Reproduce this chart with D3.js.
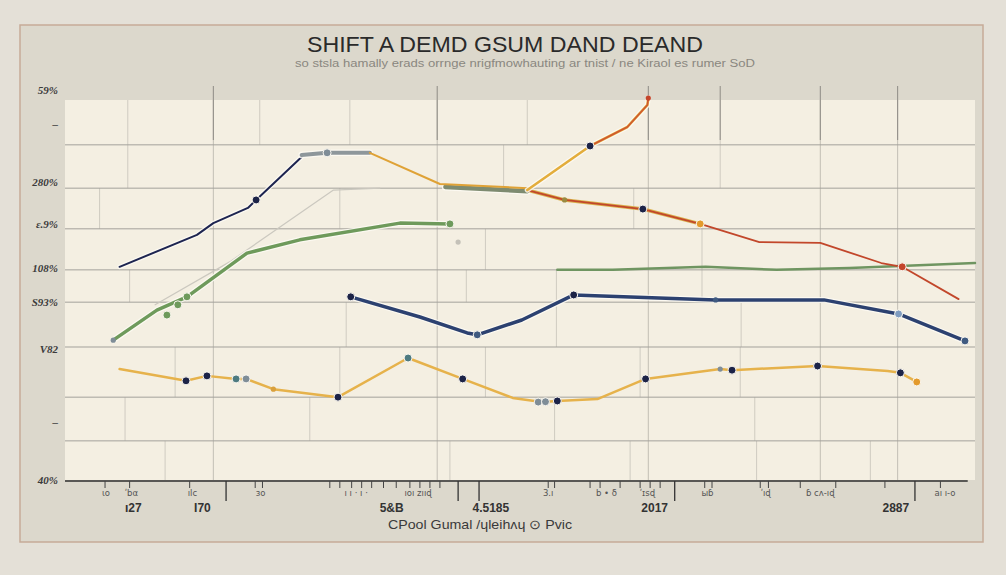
<!DOCTYPE html>
<html>
<head>
<meta charset="utf-8">
<script src="https://cdn.jsdelivr.net/npm/d3@7/dist/d3.min.js"></script>
<style>
  body { margin: 0; background: #e4e0d7; }
  svg { display: block; }
</style>
</head>
<body>
<script>
//////////////////////////////////////////////////////////////////////////////
// Data (x and y both run 0..100 across the plot)
//////////////////////////////////////////////////////////////////////////////
let titleText = 'SHIFT A DEMD GSUM DAND DEAND'
let subtitleText = 'so stsla hamally erads orrnge nrigfmowhauting ar tnist / ne Kiraol  es rumer SoD'
let xTitleText = 'CPool Gumal /ɥleihʌɥ ⊙ Pvic'

let yTickValues = [102.6, 93.7, 78.4, 67.4, 55.8, 46.8, 34.5, 15.3, 0]
let yTickLabels = ['59%', '–', '280%', 'ε.9%', '108%', 'S93%', 'V82', '–', '40%']

let gridRows = [88.2, 76.8, 66.1, 55.3, 46.8, 35.0, 21.8, 10.3]
let gridMajorCols = [16.3, 40.9, 64.1, 83.0, 91.5]
let gridTopTicks = [16.3, 40.9, 64.1, 72.0, 83.0, 91.5]
// brick joints, one list per band from top to bottom
let brickJoints = [
  [6.9, 21.4, 31.3, 50.8, 72.0],
  [6.9, 48.2, 72.0],
  [3.8, 30.2, 62.5],
  [46.2, 70.0],
  [7.1, 44.1, 54.0, 70.0],
  [30.9, 54.0, 74.3],
  [12.1, 30.2, 46.2, 63.2, 74.2],
  [6.6, 26.9, 53.8, 75.8],
  [11.0, 42.3, 62.1, 76.0, 88.5]
]

let xMajorTicks = [17.7, 43.2, 45.5, 67.0, 93.4]
let xMinorTicks = [4.4, 7.1, 13.7, 20.9, 21.7, 29.1, 30.2, 31.5, 32.6, 33.7, 35.0,
  36.4, 37.9, 39.0, 40.1, 41.2, 53.1, 53.8, 57.7, 58.8, 61.0, 63.2, 64.3, 65.4,
  70.3, 71.1, 76.4, 77.3, 80.8, 84.7, 90.1, 96.2]
let xSmallLabels = [
  [4.5, 'ιo'], [7.3, 'ʹbα'], [14.0, 'ılc'], [21.5, 'ɜo'], [32.0, 'ı ı · ı ·'],
  [38.8, 'ıoı zııɖ'], [53.1, '3.ı'], [59.5, 'b • ẟ'], [64.0, 'ʹɪsɖ'],
  [70.6, 'ыɓ'], [77.0, 'ʹıɖ'], [83.0, 'ɓ cʌ-ıɖ'], [96.7, 'aı ı-o']
]
let xLabels = [
  [7.5, 'ı27'], [15.1, 'Ι70'], [35.9, '5&B'], [46.8, '4.5185'], [64.8, '2017'], [91.3, '2887']
]

// series
let navyRise = [[6.0, 56.1], [14.5, 64.5], [16.3, 67.6], [20.1, 71.6], [21.0, 73.7], [26.0, 85.0]]
let grayCap = [[26.0, 85.5], [28.8, 86.1], [33.5, 86.1]]
let orangePeak = [[33.5, 86.1], [41.2, 77.9], [50.8, 76.8]]
let oliveBand = [[41.8, 77.1], [50.8, 76.0]]
let amberRise = [[50.8, 76.3], [57.7, 87.9], [61.8, 92.9], [64.0, 98.7], [64.1, 100.5]]
let redTip = [[57.7, 87.9], [61.8, 92.9], [64.0, 98.7], [64.1, 100.5]]
let amberFall = [[50.8, 76.3], [54.9, 73.7], [63.5, 71.3], [69.8, 67.4]]
let redDecline = [[50.8, 76.3], [54.9, 73.7], [63.5, 71.3], [69.8, 67.4], [76.3, 62.6],
  [83.0, 62.4], [89.7, 57.1], [92.0, 56.1], [98.2, 47.6]]
let greenRise = [[5.3, 36.8], [10.1, 44.7], [13.4, 48.2], [20.0, 59.7], [25.8, 63.2],
  [36.8, 67.6], [42.3, 67.4]]
let greenFlat = [[54.1, 55.3], [60.2, 55.3], [70.4, 56.1], [78.2, 55.3], [86.2, 55.8],
  [89.7, 56.1], [100, 57.1]]
let navyDip = [[31.4, 48.2], [39.0, 42.9], [44.2, 38.7], [45.3, 38.2], [50.2, 42.1],
  [55.9, 48.7], [71.5, 47.4], [83.4, 47.4], [91.6, 43.7], [98.9, 36.6]]
let amberBase = [[6.0, 29.2], [13.3, 26.1], [15.6, 27.4], [18.8, 26.6], [19.9, 26.6],
  [22.9, 23.9], [30.0, 21.8], [37.7, 32.1], [43.7, 26.6], [49.2, 21.6], [52.4, 20.5],
  [54.1, 20.8], [58.5, 21.3], [63.8, 26.6], [72.0, 29.2], [73.3, 28.9], [82.7, 30.0],
  [90.4, 28.7], [91.8, 28.2], [93.6, 25.8]]
let ghostTrail = [[9.9, 46.1], [18.1, 57.4], [29.5, 76.3], [34.6, 76.8]]

// markers: x, y, colour group
let markers = [
  [21.0, 73.7, 'navy'], [28.8, 86.1, 'slate'], [57.7, 87.9, 'navy'],
  [63.5, 71.3, 'navy'], [69.8, 67.4, 'orange'], [92.0, 56.1, 'red'],
  [11.2, 43.4, 'green'], [12.4, 46.1, 'green'], [13.4, 48.2, 'green'], [42.3, 67.4, 'green'],
  [31.4, 48.2, 'navy'], [45.3, 38.2, 'steel'], [55.9, 48.7, 'navy'],
  [91.6, 43.7, 'sky'], [98.9, 36.6, 'steel'],
  [13.3, 26.1, 'navy'], [15.6, 27.4, 'navy'], [18.8, 26.6, 'teal'], [19.9, 26.6, 'slate'],
  [30.0, 21.8, 'navy'], [37.7, 32.1, 'teal'], [43.7, 26.6, 'navy'],
  [52.0, 20.5, 'slate'], [52.8, 20.6, 'slate'], [54.1, 20.8, 'navy'],
  [63.8, 26.6, 'navy'], [73.3, 28.9, 'navy'], [82.7, 30.0, 'navy'],
  [91.8, 28.2, 'navy'], [93.6, 25.8, 'orange']
]
let minorMarkers = [
  [64.1, 100.5, 'red'], [54.9, 73.7, 'olive'], [5.3, 36.8, 'slate'], [43.2, 62.6, 'ghost'],
  [71.5, 47.4, 'steel'], [22.9, 23.9, 'amber'], [72.0, 29.2, 'slate']
]

//////////////////////////////////////////////////////////////////////////////
// Layout
//////////////////////////////////////////////////////////////////////////////
let width = 1006
let height = 575
let plot = { left: 65, right: 975, top: 100, bottom: 480 }

let svg = d3.select('body').append('svg').attr('width', width).attr('height', height)

let x = d3.scaleLinear().domain([0, 100]).range([plot.left, plot.right])
let y = d3.scaleLinear().domain([0, 100]).range([plot.bottom, plot.top])

let color = d3
  .scaleOrdinal()
  .domain(['navy', 'slate', 'orange', 'red', 'green', 'steel', 'sky', 'teal', 'olive', 'ghost', 'amber'])
  .range(['#1c2347', '#7f8d97', '#e39a2c', '#c4452b', '#6e9a5c', '#3f5a80', '#7f9cc0', '#4d7a80', '#9a8a40', '#c4c1b8', '#d9a03c'])

// card
svg
  .append('rect')
  .attr('x', 20)
  .attr('y', 25)
  .attr('width', 963)
  .attr('height', 517)
  .attr('fill', '#dcd8cc')
  .attr('stroke', '#c6ab98')
  .attr('stroke-width', 1.5)

// plot background
svg
  .append('rect')
  .attr('x', plot.left)
  .attr('y', plot.top)
  .attr('width', plot.right - plot.left)
  .attr('height', plot.bottom - plot.top)
  .attr('fill', '#f4efe2')

// title + subtitle
svg
  .append('text')
  .attr('x', 505)
  .attr('y', 52)
  .attr('text-anchor', 'middle')
  .attr('font-family', 'Liberation Sans, Arial, sans-serif')
  .attr('font-size', 22)
  .attr('fill', '#2a2a2a')
  .attr('textLength', 396)
  .attr('lengthAdjust', 'spacingAndGlyphs')
  .text(titleText)
svg
  .append('text')
  .attr('x', 525)
  .attr('y', 67)
  .attr('text-anchor', 'middle')
  .attr('font-family', 'Liberation Sans, Arial, sans-serif')
  .attr('font-size', 10)
  .attr('fill', '#8a8780')
  .attr('textLength', 460)
  .attr('lengthAdjust', 'spacingAndGlyphs')
  .text(subtitleText)

//////////////////////////////////////////////////////////////////////////////
// Grid
//////////////////////////////////////////////////////////////////////////////
let bandEdges = [100].concat(gridRows).concat([0])
let grid = svg.append('g')

brickJoints.forEach((joints, i) => {
  grid
    .selectAll(null)
    .data(joints)
    .join('line')
    .attr('x1', d => x(d))
    .attr('x2', d => x(d))
    .attr('y1', y(bandEdges[i]))
    .attr('y2', y(bandEdges[i + 1]))
    .attr('stroke', '#cfcbc1')
    .attr('stroke-width', 1)
})

grid
  .selectAll('.major')
  .data(gridMajorCols)
  .join('line')
  .attr('class', 'major')
  .attr('x1', d => x(d))
  .attr('x2', d => x(d))
  .attr('y1', y(100))
  .attr('y2', y(0))
  .attr('stroke', '#c2beb5')
  .attr('stroke-width', 1)

// the darker stubs sticking out above the plot
grid
  .selectAll('.toptick')
  .data(gridTopTicks)
  .join('line')
  .attr('class', 'toptick')
  .attr('x1', d => x(d))
  .attr('x2', d => x(d))
  .attr('y1', plot.top - 14)
  .attr('y2', plot.top + 40)
  .attr('stroke', '#8e8b85')
  .attr('stroke-width', 1)

grid
  .selectAll('.row')
  .data(gridRows)
  .join('line')
  .attr('class', 'row')
  .attr('x1', plot.left)
  .attr('x2', plot.right)
  .attr('y1', d => y(d))
  .attr('y2', d => y(d))
  .attr('stroke', '#a3a19b')
  .attr('stroke-width', 1)

//////////////////////////////////////////////////////////////////////////////
// Axes
//////////////////////////////////////////////////////////////////////////////
svg
  .append('g')
  .selectAll('text')
  .data(yTickValues)
  .join('text')
  .attr('x', 58)
  .attr('y', d => y(d) + 4)
  .attr('text-anchor', 'end')
  .attr('font-family', 'Liberation Serif, serif')
  .attr('font-style', 'italic')
  .attr('font-weight', 'bold')
  .attr('font-size', 11)
  .attr('fill', '#3b3b3b')
  .text((d, i) => yTickLabels[i])

let xAxis = svg.append('g')
xAxis
  .append('line')
  .attr('x1', plot.left)
  .attr('x2', x(99.2))
  .attr('y1', plot.bottom + 1)
  .attr('y2', plot.bottom + 1)
  .attr('stroke', '#2e2e2e')
  .attr('stroke-width', 1.6)

xAxis
  .selectAll('.minor')
  .data(xMinorTicks)
  .join('line')
  .attr('class', 'minor')
  .attr('x1', d => x(d))
  .attr('x2', d => x(d))
  .attr('y1', plot.bottom + 1)
  .attr('y2', plot.bottom + 8)
  .attr('stroke', '#444')
  .attr('stroke-width', 1)

xAxis
  .selectAll('.majortick')
  .data(xMajorTicks)
  .join('line')
  .attr('class', 'majortick')
  .attr('x1', d => x(d))
  .attr('x2', d => x(d))
  .attr('y1', plot.bottom + 1)
  .attr('y2', plot.bottom + 21)
  .attr('stroke', '#333')
  .attr('stroke-width', 1.3)

xAxis
  .selectAll('.small')
  .data(xSmallLabels)
  .join('text')
  .attr('class', 'small')
  .attr('x', d => x(d[0]))
  .attr('y', plot.bottom + 16)
  .attr('text-anchor', 'middle')
  .attr('font-family', 'DejaVu Sans, sans-serif')
  .attr('font-size', 8.5)
  .attr('fill', '#555')
  .text(d => d[1])

xAxis
  .selectAll('.big')
  .data(xLabels)
  .join('text')
  .attr('class', 'big')
  .attr('x', d => x(d[0]))
  .attr('y', plot.bottom + 32)
  .attr('text-anchor', 'middle')
  .attr('font-family', 'Liberation Sans Narrow, Liberation Sans, sans-serif')
  .attr('font-weight', 'bold')
  .attr('font-size', 12)
  .attr('fill', '#333')
  .text(d => d[1])

svg
  .append('text')
  .attr('x', 480)
  .attr('y', 529)
  .attr('text-anchor', 'middle')
  .attr('font-family', 'Liberation Sans Narrow, Liberation Sans, sans-serif')
  .attr('font-size', 13)
  .attr('fill', '#3a3a3a')
  .attr('textLength', 184)
  .attr('lengthAdjust', 'spacingAndGlyphs')
  .text(xTitleText)

//////////////////////////////////////////////////////////////////////////////
// Lines
//////////////////////////////////////////////////////////////////////////////
let line = d3
  .line()
  .x(d => x(d[0]))
  .y(d => y(d[1]))

let layers = [
  { data: ghostTrail, color: '#cbc8bf', width: 1.2, halo: false },
  { data: greenRise, color: '#6e9a5b', width: 3.5, halo: true },
  { data: greenFlat, color: '#6f9561', width: 2.5, halo: false },
  { data: navyDip, color: '#2c4170', width: 3.5, halo: true },
  { data: amberBase, color: '#e6b24b', width: 2.5, halo: false },
  { data: navyRise, color: '#1d2450', width: 2, halo: true },
  { data: grayCap, color: '#8e979b', width: 4, halo: true },
  { data: oliveBand, color: '#7e8b70', width: 4.5, halo: true },
  { data: orangePeak, color: '#dfa236', width: 2, halo: false },
  { data: amberFall, color: '#d9b04c', width: 3.5, halo: false },
  { data: redDecline, color: '#c2472b', width: 1.8, halo: false },
  { data: amberRise, color: '#e3ad3c', width: 2.6, halo: true },
  { data: redTip, color: '#cf5730', width: 1.6, halo: false }
]

let lines = svg.append('g').attr('fill', 'none').attr('stroke-linejoin', 'round').attr('stroke-linecap', 'round')
layers.forEach(layer => {
  if (layer.halo) {
    lines
      .append('path')
      .attr('d', line(layer.data))
      .attr('stroke', '#fdfaf3')
      .attr('stroke-opacity', 0.85)
      .attr('stroke-width', layer.width + 2.5)
  }
  lines
    .append('path')
    .attr('d', line(layer.data))
    .attr('stroke', layer.color)
    .attr('stroke-width', layer.width)
})

// dots
svg
  .append('g')
  .selectAll('circle')
  .data(minorMarkers)
  .join('circle')
  .attr('cx', d => x(d[0]))
  .attr('cy', d => y(d[1]))
  .attr('r', 2.6)
  .attr('fill', d => color(d[2]))

svg
  .append('g')
  .selectAll('circle')
  .data(markers)
  .join('circle')
  .attr('cx', d => x(d[0]))
  .attr('cy', d => y(d[1]))
  .attr('r', 4)
  .attr('fill', d => color(d[2]))
  .attr('stroke', '#fbf8f1')
  .attr('stroke-width', 1)
</script>
</body>
</html>
